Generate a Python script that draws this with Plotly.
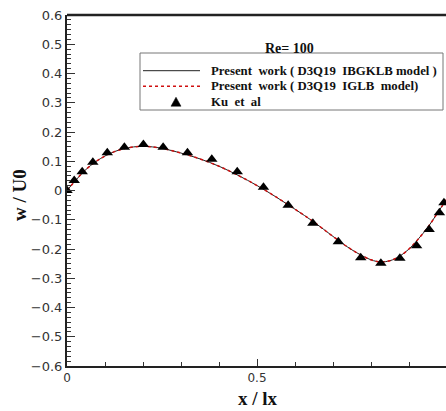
import plotly.graph_objects as go

# Ku et al. reference data (triangles)
ku_x = [0.0, 0.019, 0.040, 0.068, 0.106, 0.151, 0.201, 0.253, 0.317, 0.381, 0.448,
        0.517, 0.582, 0.647, 0.714, 0.773, 0.826, 0.876, 0.920, 0.953, 0.980, 0.992]
ku_y = [0.0, 0.034, 0.064, 0.097, 0.129, 0.148, 0.157, 0.148, 0.129, 0.107, 0.064,
        0.011, -0.050, -0.112, -0.175, -0.230, -0.249, -0.232, -0.189, -0.133, -0.076, -0.042]

# Present work curves
curve_x = [0.0, 0.025, 0.05, 0.075, 0.1, 0.125, 0.15, 0.175, 0.2, 0.225, 0.25, 0.3,
           0.35, 0.4, 0.45, 0.5, 0.55, 0.6, 0.65, 0.7, 0.75, 0.8, 0.825, 0.85,
           0.875, 0.9, 0.925, 0.95, 0.975, 1.0]
ibgklb_y = [0.0, 0.038, 0.072, 0.098, 0.118, 0.133, 0.143, 0.149, 0.151, 0.149, 0.144,
            0.128, 0.108, 0.083, 0.052, 0.017, -0.022, -0.064, -0.108, -0.157, -0.203,
            -0.237, -0.244, -0.240, -0.225, -0.200, -0.165, -0.125, -0.077, -0.028]
iglb_y = [0.0, 0.038, 0.072, 0.098, 0.118, 0.133, 0.143, 0.149, 0.151, 0.149, 0.144,
          0.128, 0.108, 0.083, 0.052, 0.017, -0.022, -0.064, -0.108, -0.157, -0.203,
          -0.237, -0.244, -0.240, -0.225, -0.200, -0.165, -0.125, -0.077, -0.028]

nb = "\u00a0"
legend_labels = [
    f"Present{nb}{nb}work{nb}({nb}D3Q19{nb}{nb}IBGKLB model{nb})",
    f"Present{nb}{nb}work{nb}({nb}D3Q19{nb}{nb}IGLB{nb}{nb}model)",
    f"Ku{nb}{nb}et{nb}{nb}al",
]

# plot area in pixels
L, R, T, B = 67, 446, 15, 366
PW, PH = R - L, B - T


def px(xp):
    return (xp - L) / PW


def py(yp):
    return (B - yp) / PH


fig = go.Figure()
fig.add_trace(go.Scatter(
    x=curve_x, y=ibgklb_y, mode="lines", line=dict(color="#222222", width=1, shape="spline"),
    name=legend_labels[0], showlegend=False))
fig.add_trace(go.Scatter(
    x=curve_x, y=iglb_y, mode="lines", line=dict(color="#d01010", width=1.5, dash="dot", shape="spline"),
    name=legend_labels[1], showlegend=False))
fig.add_trace(go.Scatter(
    x=ku_x, y=ku_y, mode="markers", marker=dict(symbol="triangle-up", size=10, color="black"),
    name=legend_labels[2], showlegend=False))
# empty trace to host the minor-tick overlay axes
fig.add_trace(go.Scatter(x=[None], y=[None], xaxis="x2", yaxis="y2", showlegend=False,
                         hoverinfo="skip"))

legend_font = dict(family="Liberation Serif", size=12.8, color="#111111")
row_y = [70.7, 86.2, 101.7]
annotations = [dict(
    x=px(289), y=py(39), xref="paper", yref="paper",
    text="<b>Re= 100</b>", showarrow=False,
    font=dict(family="Liberation Serif", size=14, color="#111111"),
)]
for lab, ry in zip(legend_labels, row_y):
    annotations.append(dict(
        x=px(209), y=py(ry), xref="paper", yref="paper", xanchor="left", yanchor="middle",
        text=f"<b>{lab}</b>", showarrow=False, font=legend_font))
# axis titles
annotations.append(dict(
    x=px(258), y=py(411), xref="paper", yref="paper",
    xanchor="center", yanchor="bottom", text="<b>x / lx</b>", showarrow=False,
    font=dict(family="Liberation Serif", size=19, color="#111111")))
annotations.append(dict(
    x=px(20), y=py(195), xref="paper", yref="paper", xanchor="center", yanchor="middle",
    textangle=-90, text="<b>w / U0</b>", showarrow=False,
    font=dict(family="Liberation Serif", size=19, color="#111111")))

tx0, ty0 = 176, 101.7
shapes = [
    dict(type="line", xref="paper", yref="paper", x0=0, x1=1, y0=1, y1=1,
         line=dict(color="#222222", width=2.5)),
    dict(type="rect", xref="paper", yref="paper", x0=px(140), x1=px(443), y0=py(53), y1=py(110),
         line=dict(color="#777777", width=1), fillcolor="white", layer="above"),
    dict(type="line", xref="paper", yref="paper", x0=px(143), x1=px(200), y0=py(row_y[0]), y1=py(row_y[0]),
         line=dict(color="#222222", width=1)),
    dict(type="line", xref="paper", yref="paper", x0=px(143), x1=px(200), y0=py(row_y[1]), y1=py(row_y[1]),
         line=dict(color="#d01010", width=1.5, dash="dot")),
    dict(type="path", xref="paper", yref="paper",
         path=f"M{px(tx0)},{py(ty0 - 4.5)} L{px(tx0 + 5)},{py(ty0 + 4.5)} L{px(tx0 - 5)},{py(ty0 + 4.5)} Z",
         fillcolor="black", line=dict(color="black", width=0.5)),
]

x_range = [0, 379 / 380]
y_range = [-0.6, 0.6]

fig.update_layout(
    width=446, height=411,
    margin=dict(l=L, r=446 - R, t=T, b=411 - B, autoexpand=False),
    paper_bgcolor="white", plot_bgcolor="white",
    showlegend=False,
    xaxis=dict(
        range=x_range, showgrid=False, zeroline=False, automargin=False,
        showline=True, linecolor="#222222", linewidth=2,
        tickmode="linear", tick0=0, dtick=0.5, tickformat=".1~f",
        ticks="inside", ticklen=7, tickwidth=1, tickcolor="#333333",
        tickfont=dict(family="DejaVu Sans", size=12, color="#333333"),
    ),
    yaxis=dict(
        range=y_range, showgrid=False, zeroline=False, automargin=False,
        showline=True, linecolor="#222222", linewidth=2,
        tickmode="linear", tick0=0, dtick=0.1, tickformat=".1~f",
        ticks="inside", ticklen=8, tickwidth=1, tickcolor="#333333",
        tickfont=dict(family="DejaVu Sans", size=13, color="#333333"),
    ),
    xaxis2=dict(
        overlaying="x", anchor="y2", side="bottom", range=x_range,
        showgrid=False, zeroline=False, showline=False, automargin=False,
        tickmode="linear", tick0=0, dtick=0.1, showticklabels=False,
        ticks="inside", ticklen=4, tickwidth=1, tickcolor="#333333",
    ),
    yaxis2=dict(
        overlaying="y", anchor="x2", side="left", range=y_range,
        showgrid=False, zeroline=False, showline=False, automargin=False,
        tickmode="linear", tick0=0, dtick=0.1 / 6, showticklabels=False,
        ticks="inside", ticklen=4, tickwidth=1, tickcolor="#333333",
    ),
    annotations=annotations,
    shapes=shapes,
)

fig.write_html("out.html", config={"displayModeBar": False},
               post_script="document.body.style.margin='0';")
